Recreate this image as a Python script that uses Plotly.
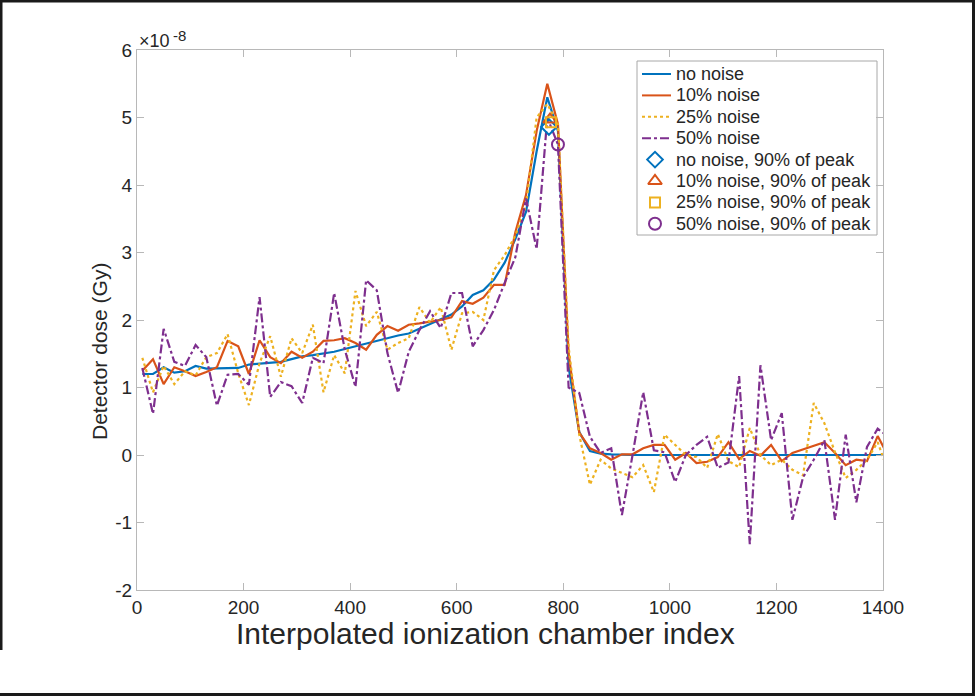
import plotly.graph_objects as go

# x positions (interpolated ionization chamber index)
x_index = [10 + 20 * i for i in range(71)]

# Detector dose values in units of 1e-8 Gy
no_noise = [1.20, 1.20, 1.30, 1.22, 1.24, 1.32, 1.28, 1.28, 1.28, 1.29,
            1.34, 1.35, 1.36, 1.38, 1.42, 1.46, 1.48, 1.50, 1.53, 1.57,
            1.61, 1.66, 1.70, 1.73, 1.77, 1.80, 1.87, 1.94, 2.01, 2.08,
            2.20, 2.37, 2.44, 2.60, 2.85, 3.20, 3.60, 4.50, 5.30, 4.80,
            1.30, 0.34, 0.06, 0.02, 0.01, 0.0, 0.0, 0.0, 0.0, 0.0,
            0.0, 0.0, 0.0, 0.0, 0.0, 0.0, 0.0, 0.0, 0.0, 0.0,
            0.0, 0.0, 0.0, 0.0, 0.0, 0.0, 0.0, 0.0, 0.0, 0.0, 0.0]

noise_10 = [1.25, 1.42, 1.05, 1.30, 1.24, 1.17, 1.23, 1.30, 1.69, 1.61,
            1.20, 1.70, 1.45, 1.36, 1.53, 1.44, 1.53, 1.69, 1.70, 1.73,
            1.66, 1.56, 1.78, 1.91, 1.84, 1.93, 1.95, 1.97, 2.00, 2.04,
            2.28, 2.24, 2.33, 2.52, 2.52, 3.30, 3.85, 4.80, 5.50, 4.90,
            1.50, 0.33, 0.10, 0.03, -0.07, 0.01, 0.01, 0.10, 0.15, 0.15,
            -0.07, 0.03, -0.12, -0.10, -0.03, 0.19, -0.06, 0.06, -0.01, 0.15,
            -0.09, 0.03, 0.08, 0.14, 0.19, 0.03, -0.15, -0.07, -0.09, 0.28, -0.02]

noise_25 = [1.44, 0.93, 1.32, 1.05, 1.24, 1.18, 1.45, 1.51, 1.79, 1.21,
            0.74, 1.36, 1.76, 1.16, 1.73, 1.51, 1.93, 0.93, 1.48, 1.21,
            2.43, 1.91, 2.12, 1.56, 1.66, 1.73, 2.19, 1.96, 2.19, 1.56,
            2.10, 2.12, 2.00, 2.74, 2.96, 3.25, 3.70, 5.00, 5.20, 4.90,
            1.60, 0.30, -0.44, -0.07, -0.20, -0.27, -0.33, -0.15, -0.55, 0.30,
            0.15, 0.00, -0.03, -0.19, 0.31, -0.09, -0.18, 0.40, 0.00, -0.15,
            -0.07, -0.22, -0.30, 0.77, 0.47, 0.04, -0.34, -0.22, -0.07, 0.19, -0.25]

noise_50 = [1.29, 0.61, 1.87, 1.38, 1.32, 1.63, 1.45, 0.73, 1.19, 1.20,
            1.04, 2.34, 0.86, 1.08, 1.02, 0.77, 1.44, 1.36, 2.40, 1.56,
            1.01, 2.59, 2.44, 1.51, 0.92, 1.53, 1.85, 2.13, 1.88, 2.40,
            2.40, 1.61, 1.85, 2.15, 2.55, 2.93, 3.80, 3.05, 5.00, 4.60,
            1.00, 0.92, 0.27, 0.03, 0.10, -0.89, 0.00, 0.93, 0.07, 0.04,
            -0.40, 0.00, 0.15, 0.27, -0.19, -0.11, 1.17, -1.32, 1.33, 0.22,
            0.62, -0.96, -0.33, -0.07, 0.22, -0.96, 0.30, -0.70, 0.12, 0.39, 0.27]

# 90%-of-peak markers (x, y in 1e-8 Gy)
peak_x = [773, 775, 777, 790]
peak_y = [4.86, 4.97, 4.93, 4.60]

x_ticks = [0, 200, 400, 600, 800, 1000, 1200, 1400]
y_ticks = [-2, -1, 0, 1, 2, 3, 4, 5, 6]
y_tick_labels = ["-2", "-1", "0", "1", "2", "3", "4", "5", "6"]

series_names = ["no noise", "10% noise", "25% noise", "50% noise"]
marker_names = ["no noise, 90% of peak", "10% noise, 90% of peak",
                "25% noise, 90% of peak", "50% noise, 90% of peak"]
colors = ["#0072BD", "#D95319", "#EDB120", "#7E2F8E"]
dashes = ["solid", "solid", "dot", "dashdot"]
symbols = ["diamond-open", "triangle-up-open", "square-open", "circle-open"]
sizes = [12, 12, 10, 12]

font_family = "Liberation Sans, Arial, Helvetica, sans-serif"
txt = "#262626"

L, R, T, B = 137, 92, 50, 106
W, H = 975, 696
pw, ph = W - L - R, H - T - B

fig = go.Figure()
for name, ys, c, d in zip(series_names, [no_noise, noise_10, noise_25, noise_50], colors, dashes):
    fig.add_trace(go.Scatter(x=x_index, y=ys, mode="lines", name=name, showlegend=False,
                             line=dict(color=c, width=2.2, dash=d)))
for i, (name, c, s, sz) in enumerate(zip(marker_names, colors, symbols, sizes)):
    fig.add_trace(go.Scatter(x=[peak_x[i]], y=[peak_y[i]], mode="markers", name=name,
                             showlegend=False,
                             marker=dict(symbol=s, size=sz, color=c,
                                         line=dict(color=c, width=2))))

# ---- legend drawn in a pixel-coordinate overlay (MATLAB-style compact legend) ----
leg_left, leg_right, leg_top, leg_bottom = 637, 877, 61, 235
row_y0, row_step = 74, 21.4
for k in range(8):
    yy = row_y0 + k * row_step
    if k < 4:
        fig.add_trace(go.Scatter(x=[642, 671], y=[yy, yy], xaxis="x2", yaxis="y2",
                                 mode="lines", showlegend=False, hoverinfo="skip",
                                 line=dict(color=colors[k], width=2, dash=dashes[k])))
        label = series_names[k]
    else:
        j = k - 4
        fig.add_trace(go.Scatter(x=[655], y=[yy], xaxis="x2", yaxis="y2",
                                 mode="markers", showlegend=False, hoverinfo="skip",
                                 marker=dict(symbol=symbols[j], size=sizes[j], color=colors[j],
                                             line=dict(color=colors[j], width=2))))
        label = marker_names[j]
    fig.add_annotation(xref="x2", yref="y2", x=674, y=yy, xanchor="left", yanchor="middle",
                       showarrow=False, text=label,
                       font=dict(size=18, color=txt, family=font_family))
fig.add_shape(type="rect", xref="x2", yref="y2", x0=leg_left, x1=leg_right,
              y0=leg_top, y1=leg_bottom, layer="below",
              line=dict(color="#a8a8a8", width=1), fillcolor="white")

axis_common = dict(showline=True, linecolor="#b8b8b8", linewidth=1.3, mirror="allticks",
                   ticks="inside", ticklen=7, tickcolor="#b8b8b8", showgrid=False,
                   zeroline=False, automargin=False,
                   tickfont=dict(size=19, color=txt, family=font_family))

fig.update_layout(
    width=W, height=H,
    margin=dict(l=L, r=R, t=T, b=B, pad=0),
    paper_bgcolor="white", plot_bgcolor="white",
    font=dict(family=font_family, color=txt),
    xaxis=dict(range=[0, 1400], tickvals=x_ticks, **axis_common),
    yaxis=dict(range=[-2, 6], tickvals=y_ticks, ticktext=y_tick_labels, **axis_common),
    xaxis2=dict(overlaying="x", range=[L, W - R], visible=False, fixedrange=True),
    yaxis2=dict(overlaying="y", range=[H - B, T], visible=False, fixedrange=True),
    showlegend=False,
)

def px_x(p):
    return (p - L) / pw

def px_y(p):
    return (H - B - p) / ph

# axis titles
fig.add_annotation(xref="paper", yref="paper", x=px_x(485), y=px_y(633),
                   xanchor="center", yanchor="middle", showarrow=False,
                   text="Interpolated ionization chamber index",
                   font=dict(size=30, color=txt, family=font_family))
fig.add_annotation(xref="paper", yref="paper", x=px_x(99), y=px_y(352),
                   xanchor="center", yanchor="middle", showarrow=False, textangle=-90,
                   text="Detector dose (Gy)",
                   font=dict(size=21, color=txt, family=font_family))
# exponent label
fig.add_annotation(xref="paper", yref="paper", x=px_x(137), y=px_y(41),
                   xanchor="left", yanchor="middle", showarrow=False,
                   text="×10", font=dict(size=18, color=txt, family=font_family))
fig.add_annotation(xref="paper", yref="paper", x=px_x(171), y=px_y(35),
                   xanchor="left", yanchor="middle", showarrow=False,
                   text="-8", font=dict(size=15, color=txt, family=font_family))

# outer image frame
frame = dict(type="line", xref="paper", yref="paper", line=dict(color="#1a1a1a", width=3))
fig.add_shape(x0=px_x(0), x1=px_x(975), y0=px_y(1), y1=px_y(1), **frame)
fig.add_shape(x0=px_x(973.5), x1=px_x(973.5), y0=px_y(0), y1=px_y(696), **frame)
fig.add_shape(x0=px_x(0), x1=px_x(975), y0=px_y(694.5), y1=px_y(694.5), **frame)
fig.add_shape(x0=px_x(1), x1=px_x(1), y0=px_y(0), y1=px_y(650), **frame)

fig.write_html("out.html", config={"displayModeBar": False})

# remove the default browser body margin so the figure sits at the page origin
with open("out.html", "r", encoding="utf-8") as f:
    html = f.read()
html = html.replace("<body>", '<body style="margin:0;padding:0;overflow:hidden">', 1)
with open("out.html", "w", encoding="utf-8") as f:
    f.write(html)
